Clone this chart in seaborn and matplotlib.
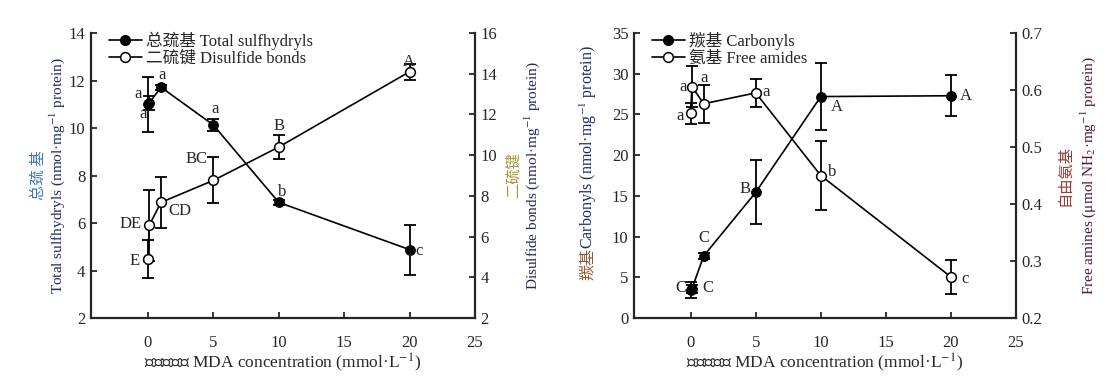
import matplotlib
matplotlib.use("Agg")
import matplotlib.pyplot as plt
import seaborn as sns
import pandas as pd
from matplotlib.lines import Line2D

# MDA concentration (mmol/L)
mda = [0, 0.1, 1, 5, 10, 20]

# left panel
sulfhydryls = [11.0, 11.05, 11.72, 10.13, 6.87, 4.88]
sulfhydryls_err = [1.17, 0.3, 0.1, 0.27, 0.1, 1.05]
sulfhydryls_lab = ['a', 'a', 'a', 'a', 'b', 'c']
disulfide = [4.9, 6.55, 7.68, 8.76, 10.4, 14.1]
disulfide_err = [0.93, 1.75, 1.25, 1.13, 0.58, 0.4]
disulfide_lab = ['E', 'DE', 'CD', 'BC', 'B', 'A']

# right panel
carbonyls = [3.44, 3.6, 7.62, 15.44, 27.2, 27.3]
carbonyls_err = [0.97, 0.5, 0.4, 3.95, 4.1, 2.5]
carbonyls_lab = ['C', 'C', 'C', 'B', 'A', 'A']
amides = [0.559, 0.606, 0.576, 0.595, 0.450, 0.272]
amides_err = [0.019, 0.036, 0.033, 0.024, 0.06, 0.03]
amides_lab = ['a', 'a', 'a', 'a', 'b', 'c']

sns.set_style("ticks")
plt.rcParams['font.family'] = ['Liberation Serif', 'Noto Sans CJK SC']
plt.rcParams['mathtext.fontset'] = 'stix'
plt.rcParams['font.size'] = 12
plt.rcParams['xtick.direction'] = 'in'
plt.rcParams['ytick.direction'] = 'in'
plt.rcParams['axes.linewidth'] = 1.6
plt.rcParams['xtick.major.width'] = 1.3
plt.rcParams['ytick.major.width'] = 1.3
plt.rcParams['xtick.major.size'] = 4
plt.rcParams['ytick.major.size'] = 4

fig = plt.figure(figsize=(11.11, 3.89), dpi=100)
axL = fig.add_axes([0.0819, 0.1825, 0.3456, 0.7325])
axR = fig.add_axes([0.5707, 0.1825, 0.3438, 0.7325])

filled = dict(marker='o', markersize=7, markerfacecolor='black', markeredgecolor='black')
hollow = dict(marker='o', markersize=7, markerfacecolor='white', markeredgecolor='black',
              markeredgewidth=1.1)


def draw_series(ax, y, err, style):
    ax.errorbar(mda, y, yerr=err, fmt='none', ecolor='black', elinewidth=1.3,
                capsize=4, capthick=1.3, zorder=2)
    df = pd.DataFrame({'x': mda, 'y': y})
    sns.lineplot(data=df, x='x', y='y', ax=ax, color='black', linewidth=1.2,
                 zorder=3, **style)
    ax.set_xlabel('')
    ax.set_ylabel('')


def put_labels(ax, labels, pos):
    for t, (x, y) in zip(labels, pos):
        ax.text(x, y, t, ha='center', va='center', fontsize=12, zorder=5)


def setup(ax, ax2):
    ax.set_xlim(-4.35, 25)
    ax.set_xticks([0, 5, 10, 15, 20, 25])
    ax.spines['top'].set_visible(False)
    ax.spines['right'].set_visible(False)
    for s in ['top', 'left', 'bottom']:
        ax2.spines[s].set_visible(False)
    ax.tick_params(axis='x', pad=12)
    ax.tick_params(axis='y', pad=4)
    ax2.tick_params(axis='y', pad=4)


h1 = Line2D([], [], color='black', linewidth=1.2, **filled)
h2 = Line2D([], [], color='black', linewidth=1.2, **hollow)
leg_kw = dict(loc='upper left', bbox_to_anchor=(0.02, 1.04), frameon=False,
              handlelength=2.0, handletextpad=0.25, labelspacing=0.05, fontsize=12,
              borderaxespad=0.2)
xlab = '丙二醛浓度 MDA concentration (mmol·L$^{-1}$)'

# ---- left panel ----
axL2 = axL.twinx()
draw_series(axL, sulfhydryls, sulfhydryls_err, filled)
draw_series(axL2, disulfide, disulfide_err, hollow)
setup(axL, axL2)
axL.set_ylim(2, 14)
axL.set_yticks(range(2, 15, 2))
axL2.set_ylim(2, 16)
axL2.set_yticks(range(2, 17, 2))

put_labels(axL, sulfhydryls_lab,
           [(-0.75, 11.45), (-0.35, 10.6), (1.05, 12.22), (5.1, 10.8), (10.3, 7.3), (20.75, 4.83)])
put_labels(axL2, disulfide_lab,
           [(-1.0, 4.81), (-1.3, 6.6), (2.45, 7.27), (3.7, 9.8), (10.0, 11.43), (19.95, 14.6)])

axL.set_zorder(axL2.get_zorder() + 1)
axL.patch.set_visible(False)

axL.legend([h1, h2], ['总巯基 Total sulfhydryls', '二硫键 Disulfide bonds'], **leg_kw)

axL.text(-0.135, 0.5, '总巯 基', rotation=90, ha='center', va='center',
         transform=axL.transAxes, color='#3f72b4', fontsize=11)
axL.text(-0.088, 0.5, 'Total sulfhydryls (nmol·mg$^{-1}$ protein)', rotation=90,
         ha='center', va='center', transform=axL.transAxes, color='#1c2a66', fontsize=11)
axL2.text(1.10, 0.5, '二硫键', rotation=90, ha='center', va='center',
          transform=axL2.transAxes, color='#a89038', fontsize=11)
axL2.text(1.15, 0.5, 'Disulfide bonds (nmol·mg$^{-1}$ protein)', rotation=90,
          ha='center', va='center', transform=axL2.transAxes, color='#1c2a66', fontsize=11)
axL.text(0.5, -0.157, xlab, ha='center', va='center', transform=axL.transAxes, fontsize=12.5)

# ---- right panel ----
axR2 = axR.twinx()
draw_series(axR, carbonyls, carbonyls_err, filled)
draw_series(axR2, amides, amides_err, hollow)
setup(axR, axR2)
axR.set_ylim(0, 35)
axR.set_yticks(range(0, 36, 5))
axR2.set_ylim(0.2, 0.7)
axR2.set_yticks([0.2, 0.3, 0.4, 0.5, 0.6, 0.7])
axR2.set_yticklabels(['0.2', '0.3', '0.4', '0.5', '0.6', '0.7'])

put_labels(axR, carbonyls_lab,
           [(-0.72, 3.65), (1.33, 3.68), (1.02, 9.8), (4.2, 15.9), (11.2, 25.96), (21.15, 27.3)])
put_labels(axR2, amides_lab,
           [(-0.85, 0.554), (-0.6, 0.606), (1.02, 0.622), (5.8, 0.596), (10.9, 0.457), (21.1, 0.268)])

axR.set_zorder(axR2.get_zorder() + 1)
axR.patch.set_visible(False)

axR.legend([h1, h2], ['羰基 Carbonyls', '氨基 Free amides'], **leg_kw)

axR.text(-0.12, 0.6, 'Carbonyls (nmol·mg$^{-1}$ protein)', rotation=90, ha='center',
         va='center', transform=axR.transAxes, color='#1c2a66', fontsize=11.5)
axR.text(-0.12, 0.19, '羰基', rotation=90, ha='center', va='center',
         transform=axR.transAxes, color='#8a5a32', fontsize=11.5)
axR2.text(1.13, 0.5, '自由氨基', rotation=90, ha='center', va='center',
          transform=axR2.transAxes, color='#9a3a34', fontsize=11)
axR2.text(1.19, 0.5, 'Free amines (μmol NH$_2$·mg$^{-1}$ protein)', rotation=90,
          ha='center', va='center', transform=axR2.transAxes, color='#4a1a3a', fontsize=11)
axR.text(0.5, -0.157, xlab, ha='center', va='center', transform=axR.transAxes, fontsize=12.5)

fig.savefig('out.png', dpi=100)
